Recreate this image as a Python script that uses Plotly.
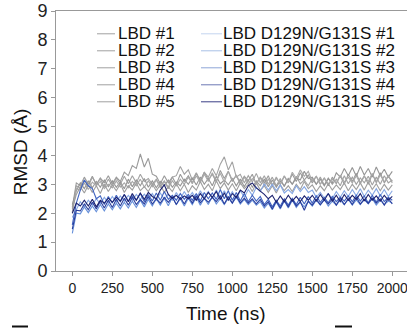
import plotly.graph_objects as go

time_ns = list(range(0, 2001, 25))

lbd_1 = [2.20, 3.05, 2.95, 3.25, 3.00, 3.28, 2.98, 3.22, 3.05, 3.30,
         3.02, 3.25, 3.10, 3.42, 3.30, 3.65, 3.55, 4.05, 3.60, 3.90,
         3.35, 3.28, 3.02, 3.30, 3.05, 3.25, 3.00, 3.35, 3.10, 3.30,
         3.05, 3.38, 3.12, 3.42, 3.15, 3.35, 3.08, 3.48, 3.20, 3.45,
         3.10, 3.32, 3.05, 3.28, 3.12, 3.35, 3.00, 3.25, 3.05, 3.30,
         2.95, 3.22, 3.00, 3.28, 3.05, 3.35, 3.10, 3.40, 3.15, 3.32,
         3.05, 3.28, 3.00, 3.22, 2.95, 3.25, 3.02, 3.30, 3.00, 3.35,
         3.10, 3.38, 3.05, 3.30, 3.00, 3.35, 3.08, 3.40, 3.05, 3.28, 3.10]
lbd_2 = [2.05, 2.95, 2.88, 3.15, 2.92, 3.25, 3.00, 3.20, 2.90, 3.18,
         2.95, 3.22, 3.00, 3.28, 3.02, 3.30, 3.05, 3.35, 3.10, 3.20,
         3.00, 3.18, 2.95, 3.12, 2.90, 3.25, 3.30, 3.62, 3.35, 3.50,
         3.15, 3.40, 3.10, 3.42, 3.25, 3.55, 3.30, 3.70, 3.95, 3.50,
         3.78, 3.25, 3.35, 3.05, 3.30, 3.08, 3.38, 3.05, 3.30, 3.00,
         3.25, 2.95, 3.20, 2.92, 3.22, 3.00, 3.28, 3.02, 3.15, 2.95,
         3.20, 3.00, 3.25, 2.98, 3.22, 3.00, 3.18, 2.95, 3.30, 3.02,
         3.25, 3.00, 3.22, 3.05, 3.28, 2.98, 3.25, 3.00, 3.30, 3.05, 3.15]
lbd_3 = [2.30, 2.78, 3.05, 2.85, 3.12, 2.88, 3.10, 2.90, 3.15, 2.92,
         3.12, 2.90, 3.08, 2.85, 3.18, 2.92, 3.15, 2.95, 3.20, 2.90,
         3.12, 2.88, 3.10, 2.95, 3.15, 2.90, 3.08, 2.95, 3.18, 3.00,
         3.22, 2.98, 3.25, 3.00, 3.20, 2.95, 3.28, 3.02, 3.15, 2.98,
         3.20, 2.95, 3.18, 2.92, 3.15, 2.90, 3.12, 2.95, 3.18, 2.92,
         3.15, 2.90, 3.12, 2.95, 3.18, 3.00, 3.22, 3.15, 3.45, 3.20,
         3.25, 3.00, 3.18, 2.95, 3.20, 3.05, 3.40, 3.25, 3.55, 3.30,
         3.58, 3.28, 3.62, 3.32, 3.55, 3.25, 3.60, 3.30, 3.52, 3.25, 3.45]
lbd_4 = [2.00, 2.85, 2.80, 3.05, 2.82, 3.08, 2.95, 3.10, 2.85, 3.00,
         2.88, 3.12, 2.90, 3.05, 2.88, 3.10, 2.95, 3.18, 2.90, 3.12,
         2.92, 3.15, 2.88, 3.10, 2.85, 3.12, 2.95, 3.18, 3.00, 3.25,
         3.02, 3.30, 3.05, 3.35, 3.10, 3.40, 3.12, 3.38, 3.08, 3.45,
         3.15, 3.30, 3.00, 3.25, 3.02, 3.20, 3.05, 3.22, 2.95, 3.18,
         2.98, 3.25, 3.00, 3.30, 3.05, 3.42, 3.20, 3.50, 3.28, 3.45,
         3.10, 3.28, 3.00, 3.22, 3.02, 3.18, 3.05, 3.32, 3.08, 3.25,
         3.05, 3.30, 3.02, 3.28, 3.10, 3.38, 3.05, 3.32, 3.08, 3.30, 3.05]
lbd_5 = [2.15, 2.65, 2.92, 2.70, 2.98, 2.72, 2.95, 2.68, 3.00, 2.75,
         2.98, 2.78, 3.02, 2.72, 2.95, 2.80, 3.05, 2.78, 2.92, 2.75,
         3.00, 2.78, 2.98, 2.72, 2.92, 2.75, 3.02, 2.78, 3.00, 2.72,
         2.95, 2.80, 3.10, 2.82, 3.00, 2.78, 3.12, 2.85, 3.05, 2.80,
         3.02, 2.78, 3.05, 2.85, 3.00, 2.75, 3.05, 2.80, 2.95, 2.72,
         2.95, 2.70, 2.98, 2.78, 2.95, 2.75, 3.00, 2.82, 3.10, 2.85,
         2.98, 2.75, 2.95, 2.78, 3.02, 2.80, 2.98, 2.82, 3.05, 2.78,
         3.00, 2.82, 3.05, 2.80, 3.08, 2.82, 3.02, 2.78, 3.00, 2.80, 2.98]

mut_1 = [1.85, 2.15, 2.40, 2.22, 2.45, 2.28, 2.50, 2.32, 2.55, 2.35,
         2.58, 2.38, 2.60, 2.42, 2.62, 2.45, 2.65, 2.48, 2.66, 2.50,
         2.68, 2.45, 2.70, 2.48, 2.66, 2.45, 2.72, 2.50, 2.75, 2.52,
         2.72, 2.50, 2.78, 2.55, 2.75, 2.52, 2.80, 2.55, 2.78, 2.52,
         2.75, 2.50, 2.78, 2.55, 2.82, 2.62, 2.90, 2.75, 3.02, 2.80,
         3.00, 2.78, 2.98, 2.70, 2.82, 2.68, 2.95, 2.75, 2.92, 2.72,
         2.80, 2.55, 2.72, 2.52, 2.68, 2.50, 2.75, 2.55, 2.78, 2.58,
         2.82, 2.60, 2.85, 2.58, 2.80, 2.62, 2.85, 2.60, 2.82, 2.58, 2.78]
mut_2 = [1.30, 2.00, 1.98, 2.22, 2.02, 2.25, 2.05, 2.30, 2.08, 2.32,
         2.12, 2.35, 2.15, 2.38, 2.18, 2.42, 2.20, 2.45, 2.22, 2.48,
         2.25, 2.50, 2.28, 2.52, 2.26, 2.55, 2.30, 2.50, 2.25, 2.52,
         2.30, 2.55, 2.28, 2.52, 2.30, 2.58, 2.32, 2.50, 2.30, 2.52,
         2.35, 2.55, 2.32, 2.48, 2.30, 2.45, 2.28, 2.40, 2.18, 2.35,
         2.12, 2.38, 2.15, 2.42, 2.18, 2.45, 2.20, 2.38, 2.22, 2.40,
         2.25, 2.45, 2.28, 2.48, 2.25, 2.42, 2.28, 2.45, 2.30, 2.48,
         2.28, 2.46, 2.30, 2.48, 2.32, 2.50, 2.28, 2.45, 2.30, 2.42, 2.35]
mut_3 = [1.60, 2.35, 2.80, 3.15, 2.95, 2.85, 2.50, 2.60, 2.30, 2.58,
         2.35, 2.62, 2.40, 2.65, 2.42, 2.60, 2.45, 2.68, 2.40, 2.65,
         2.42, 2.70, 2.45, 2.75, 2.48, 2.62, 2.45, 2.68, 2.48, 2.65,
         2.45, 2.68, 2.42, 2.72, 2.50, 2.70, 2.48, 2.82, 2.50, 2.78,
         2.45, 2.72, 2.42, 2.68, 2.40, 2.62, 2.42, 2.58, 2.30, 2.48,
         2.22, 2.45, 2.25, 2.50, 2.28, 2.52, 2.30, 2.55, 2.32, 2.58,
         2.35, 2.60, 2.38, 2.55, 2.36, 2.58, 2.40, 2.56, 2.42, 2.60,
         2.40, 2.62, 2.42, 2.60, 2.35, 2.62, 2.38, 2.65, 2.40, 2.55, 2.45]
mut_4 = [1.45, 2.10, 2.08, 2.32, 2.12, 2.38, 2.15, 2.42, 2.18, 2.45,
         2.20, 2.48, 2.25, 2.52, 2.28, 2.55, 2.30, 2.48, 2.32, 2.58,
         2.32, 2.50, 2.35, 2.55, 2.38, 2.56, 2.30, 2.55, 2.32, 2.58,
         2.35, 2.60, 2.36, 2.52, 2.38, 2.55, 2.40, 2.60, 2.32, 2.58,
         2.35, 2.60, 2.36, 2.52, 2.35, 2.50, 2.32, 2.48, 2.25, 2.40,
         2.15, 2.42, 2.18, 2.45, 2.22, 2.48, 2.25, 2.40, 2.10, 2.42,
         2.28, 2.48, 2.30, 2.46, 2.32, 2.50, 2.28, 2.52, 2.30, 2.50,
         2.30, 2.55, 2.32, 2.48, 2.34, 2.52, 2.35, 2.50, 2.28, 2.52, 2.32]
mut_5 = [2.00, 2.35, 2.25, 2.45, 2.25, 2.48, 2.22, 2.45, 2.35, 2.52,
         2.38, 2.55, 2.42, 2.65, 2.40, 2.68, 2.45, 2.70, 2.48, 2.72,
         2.58, 2.50, 2.80, 2.98, 2.65, 2.52, 2.62, 2.48, 2.60, 2.50,
         2.62, 2.45, 2.68, 2.50, 2.72, 2.55, 2.75, 2.48, 2.70, 2.45,
         2.68, 2.55, 2.80, 2.70, 2.95, 3.05, 2.88, 2.78, 2.65, 2.50,
         2.62, 2.38, 2.60, 2.40, 2.62, 2.42, 2.58, 2.40, 2.60, 2.45,
         2.62, 2.42, 2.65, 2.45, 2.68, 2.42, 2.62, 2.40, 2.65, 2.45,
         2.62, 2.48, 2.68, 2.42, 2.65, 2.45, 2.60, 2.42, 2.62, 2.45, 2.58]

wt_names = ["LBD #1", "LBD #2", "LBD #3", "LBD #4", "LBD #5"]
mut_names = ["LBD D129N/G131S #1", "LBD D129N/G131S #2", "LBD D129N/G131S #3",
             "LBD D129N/G131S #4", "LBD D129N/G131S #5"]
wt_colors = ["#9a9a9a", "#a2a2a2", "#959595", "#a8a8a8", "#9e9e9e"]
mut_colors = ["#86a8e4", "#6690da", "#3f63c0", "#283d9c", "#1b216e"]
legend_wt_colors = ["#a0a0a0", "#a0a0a0", "#a0a0a0", "#a0a0a0", "#a0a0a0"]
legend_mut_colors = ["#c4d4ef", "#a9c0e6", "#8ea6d8", "#6d78b4", "#3b3f86"]

x_ticks = [0, 250, 500, 750, 1000, 1250, 1500, 1750, 2000]
y_ticks = list(range(0, 10))

W, H = 407, 328
L, R, T, B = 56, 0, 10.7, 328 - 270.7
PW, PH = W - L - R, H - T - B


def px(x):
    return (x - L) / PW


def py(y):
    return 1 - (y - T) / PH


fig = go.Figure()
for name, vals, col in zip(wt_names, [lbd_1, lbd_2, lbd_3, lbd_4, lbd_5], wt_colors):
    fig.add_trace(go.Scatter(x=time_ns, y=vals, mode="lines", name=name,
                             line=dict(color=col, width=1.1), showlegend=False))
for name, vals, col in zip(mut_names, [mut_1, mut_2, mut_3, mut_4, mut_5], mut_colors):
    fig.add_trace(go.Scatter(x=time_ns, y=vals, mode="lines", name=name,
                             line=dict(color=col, width=1.1), showlegend=False))

font = "Liberation Sans, Arial, sans-serif"
ann = []
shapes = []
row_y = [33.5, 50.5, 67.5, 84.5, 101.5]
for k in range(5):
    ann.append(dict(x=px(116), y=py(row_y[k]), xref="paper", yref="paper",
                    text=wt_names[k], showarrow=False, xanchor="left", yanchor="middle",
                    font=dict(family=font, size=17, color="#111")))
    shapes.append(dict(type="line", xref="paper", yref="paper",
                       x0=px(97), x1=px(115), y0=py(row_y[k]), y1=py(row_y[k]),
                       line=dict(color=legend_wt_colors[k], width=1)))
    ann.append(dict(x=px(221), y=py(row_y[k]), xref="paper", yref="paper",
                    text=mut_names[k], showarrow=False, xanchor="left", yanchor="middle",
                    font=dict(family=font, size=17, color="#111")))
    shapes.append(dict(type="line", xref="paper", yref="paper",
                       x0=px(201), x1=px(222), y0=py(row_y[k]), y1=py(row_y[k]),
                       line=dict(color=legend_mut_colors[k], width=1)))

ann.append(dict(x=px(20), y=py(152), xref="paper", yref="paper", text="RMSD (Å)",
                textangle=-90, showarrow=False, xanchor="center", yanchor="middle",
                font=dict(family=font, size=19, color="#111")))
ann.append(dict(x=px(226), y=py(312.7), xref="paper", yref="paper", text="Time (ns)",
                showarrow=False, xanchor="center", yanchor="middle",
                font=dict(family=font, size=19, color="#111")))

for x0, x1 in [(12, 28), (335, 352)]:
    shapes.append(dict(type="rect", xref="paper", yref="paper",
                       x0=px(x0), x1=px(x1), y0=py(325.2), y1=py(327.2),
                       line=dict(width=0), fillcolor="#111"))

fig.update_layout(
    width=W, height=H,
    margin=dict(l=L, r=R, t=T, b=B, pad=0),
    paper_bgcolor="white", plot_bgcolor="white",
    showlegend=False,
    annotations=ann, shapes=shapes,
    xaxis=dict(range=[-102, 2092], tickvals=x_ticks, ticktext=[str(v) for v in x_ticks],
               showgrid=False, zeroline=False, showline=True, linecolor="#999",
               linewidth=1, mirror=True, ticks="outside", ticklen=4, tickcolor="#999",
               ticklabeloverflow="allow",
               tickfont=dict(family=font, size=14, color="#222")),
    yaxis=dict(range=[0, 9], tickvals=y_ticks, showgrid=False, zeroline=False,
               showline=True, linecolor="#999", linewidth=1, ticks="outside",
               ticklen=4, tickcolor="#999",
               tickfont=dict(family=font, size=18, color="#222")),
)

fig.write_html("out.html", config={"displayModeBar": False},
               post_script="document.body.style.margin='0px';")
